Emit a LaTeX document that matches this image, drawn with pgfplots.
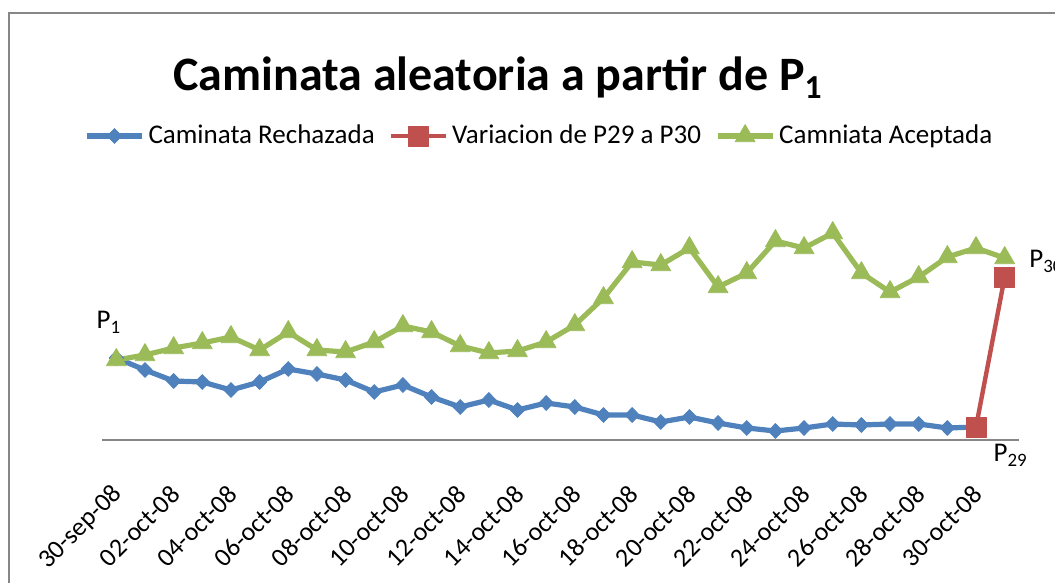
\documentclass[border=0pt]{standalone}
\usepackage{pgfplots}
\pgfplotsset{compat=1.18}
\usepackage{fontspec}
\setmainfont{Carlito}
\definecolor{cblue}{HTML}{4F81BD}
\definecolor{cred}{HTML}{C0504D}
\definecolor{cgreen}{HTML}{9BBB59}
\definecolor{cframe}{HTML}{878787}

\begin{document}
\begin{tikzpicture}[x=0.5pt,y=0.5pt] % 1 unit = 1 px of the reference
\useasboundingbox (0,0) rectangle (1055,583);
% outer chart frame (right and bottom edges fall outside the picture)
\draw[cframe, line width=1.2pt] (9,-20) |- (1100,570);
\node[anchor=base, inner sep=0pt, font=\fontsize{24}{28}\selectfont\bfseries]
  at (498,492) {Caminata aleatoria a partir de P\textsubscript{1}};

\begin{axis}[
  at={(51pt,71.5pt)}, anchor=south west,
  scale only axis, width=458.5pt, height=125pt,
  xmin=-0.5, xmax=31.5, ymin=0, ymax=250,
  axis x line*=bottom,
  hide y axis,
  x axis line style={cframe, line width=0.7pt, -},
  major tick length=0pt,
  xtick={0,2,...,30},
  xticklabels={30-sep-08,02-oct-08,04-oct-08,06-oct-08,08-oct-08,10-oct-08,12-oct-08,14-oct-08,16-oct-08,18-oct-08,20-oct-08,22-oct-08,24-oct-08,26-oct-08,28-oct-08,30-oct-08},
  xticklabel style={xshift=1pt, yshift=-25pt, rotate=45, anchor=east, inner sep=0pt, font=\fontsize{13}{15}\selectfont},
  clip=false,
  legend columns=3,
  legend style={at={(0.478,1.216)}, anchor=center, draw=none, fill=none,
    font=\fontsize{13.5}{15}\selectfont,
    /tikz/every even column/.append style={column sep=5pt}},
  legend image code/.code={\draw[mark repeat=2, mark phase=2] plot coordinates {(0pt,0pt) (13.75pt,0pt) (27.5pt,0pt)};},
  every axis plot/.append style={line join=round},
]
% Caminata Rechazada
\addplot[cblue, line width=2.6pt, mark=diamond*, mark size=3.7pt, mark options={line width=0.4pt, xscale=1.3}]
  coordinates {(0,82)(1,70)(2,59)(3,58)(4,50)(5,58)(6,71)(7,66)(8,60)(9,48)(10,55)(11,43)(12,33)(13,40)(14,30)(15,37)(16,33)(17,25)(18,25)(19,18)(20,23)(21,17)(22,12)(23,9)(24,12)(25,16)(26,15)(27,16)(28,16)(29,12)(30,13)};
\addlegendentry{Caminata Rechazada}

% Variacion de P29 a P30
\addplot[cred, line width=2.2pt, mark=square*, mark size=5pt, mark options={line width=0.4pt}]
  coordinates {(30,13)(31,163)};
\addlegendentry{Variacion de P29 a P30}

% Camniata Aceptada
\addplot[cgreen, line width=2.6pt, mark=triangle*, mark size=5.7pt, mark options={line width=0.4pt}]
  coordinates {(0,80)(1,85)(2,92)(3,97)(4,103)(5,90)(6,108)(7,90)(8,88)(9,98)(10,114)(11,108)(12,94)(13,87)(14,89)(15,98)(16,115)(17,142)(18,178)(19,175)(20,192)(21,153)(22,167)(23,199)(24,192)(25,207)(26,167)(27,148)(28,163)(29,183)(30,192)(31,182)};
\addlegendentry{Camniata Aceptada}

\node[anchor=base west, inner sep=0pt, font=\fontsize{13.5}{15}\selectfont] at (axis cs:-0.7,111) {P\textsubscript{1}};
\node[anchor=base west, inner sep=0pt, font=\fontsize{13.5}{15}\selectfont] at (axis cs:31.85,172) {P\textsubscript{30}};
\node[anchor=base west, inner sep=0pt, font=\fontsize{13.5}{15}\selectfont] at (axis cs:30.6,-22) {P\textsubscript{29}};
\end{axis}
\end{tikzpicture}
\end{document}
